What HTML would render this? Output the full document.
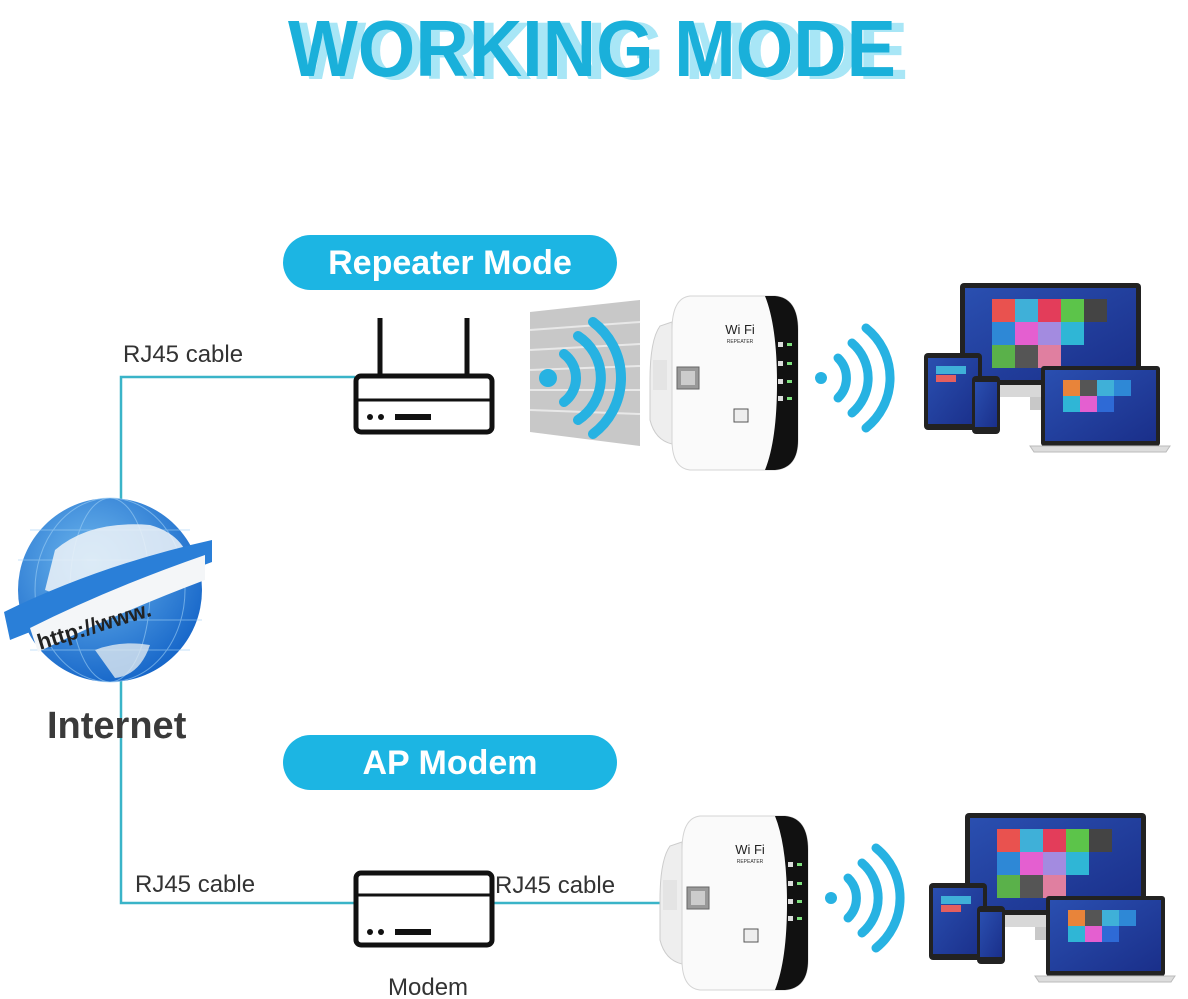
<!DOCTYPE html>
<html><head><meta charset="utf-8"><style>
html,body{margin:0;padding:0;background:#fff}
svg{display:block}
text{font-family:"Liberation Sans",Arial,sans-serif}
</style></head><body>
<svg width="1188" height="999" viewBox="0 0 1188 999" xmlns="http://www.w3.org/2000/svg">
<defs>
<linearGradient id="scr" x1="0" y1="0" x2="1" y2="1"><stop offset="0" stop-color="#2a4fb0"/><stop offset="1" stop-color="#1a2f8a"/></linearGradient>
<radialGradient id="glb" cx="0.4" cy="0.35" r="0.7"><stop offset="0" stop-color="#6fb8ee"/><stop offset="1" stop-color="#1464c8"/></radialGradient>
<g id="devices">
  <rect x="960" y="283" width="181" height="104" rx="4" fill="#222"/>
  <rect x="965" y="288" width="171" height="92" fill="url(#scr)"/>
  <rect x="960" y="385" width="181" height="12" fill="#d8d8d8"/>
  <rect x="1030" y="397" width="40" height="13" fill="#c8c8c8"/>
  <g>
    <rect x="992" y="299" width="23" height="23" fill="#e9524f"/><rect x="1015" y="299" width="23" height="23" fill="#3fb0d8"/><rect x="1038" y="299" width="23" height="23" fill="#e33d5a"/><rect x="1061" y="299" width="23" height="23" fill="#5cc44a"/><rect x="1084" y="299" width="23" height="23" fill="#444"/>
    <rect x="992" y="322" width="23" height="23" fill="#2e88d6"/><rect x="1015" y="322" width="23" height="23" fill="#e45fd0"/><rect x="1038" y="322" width="23" height="23" fill="#a38be0"/><rect x="1061" y="322" width="23" height="23" fill="#2fb6d6"/>
    <rect x="992" y="345" width="23" height="23" fill="#5ab14a"/><rect x="1015" y="345" width="23" height="23" fill="#555"/><rect x="1038" y="345" width="23" height="23" fill="#e07fa0"/>
  </g>
  <rect x="924" y="353" width="58" height="77" rx="4" fill="#222"/>
  <rect x="928" y="358" width="50" height="66" fill="url(#scr)"/>
  <rect x="936" y="366" width="30" height="8" fill="#3fb0d8"/><rect x="936" y="375" width="20" height="7" fill="#e45f5f"/>
  <rect x="972" y="376" width="28" height="58" rx="4" fill="#222"/>
  <rect x="975" y="382" width="22" height="45" fill="url(#scr)"/>
  <rect x="1041" y="366" width="119" height="80" rx="3" fill="#222"/>
  <rect x="1045" y="370" width="111" height="71" fill="url(#scr)"/>
  <rect x="1063" y="380" width="17" height="16" fill="#e8843a"/><rect x="1080" y="380" width="17" height="16" fill="#555"/><rect x="1097" y="380" width="17" height="16" fill="#3fb0d8"/><rect x="1114" y="380" width="17" height="16" fill="#2e88d6"/>
  <rect x="1063" y="396" width="17" height="16" fill="#2fb6d6"/><rect x="1080" y="396" width="17" height="16" fill="#e45fd0"/><rect x="1097" y="396" width="17" height="16" fill="#2e6ad6"/>
  <path d="M1030 446 L1170 446 L1166 452 L1034 452 Z" fill="#ddd" stroke="#bbb"/>
</g>
<g id="rep">
  <path d="M672 322 L660 326 Q650 340 650 380 L650 420 Q655 440 672 444 Z" fill="#eee" stroke="#ccc"/>
  <rect x="653" y="360" width="14" height="30" fill="#e4e4e4"/>
  <path d="M690 296 L775 296 Q798 298 798 330 L798 440 Q798 468 775 470 L690 470 Q672 468 672 440 L672 330 Q672 298 690 296 Z" fill="#fafafa" stroke="#d4d4d4"/>
  <path d="M765 296 L775 296 Q798 298 798 330 L798 440 Q798 468 775 470 L765 470 Q777 440 777 383 Q777 326 765 296 Z" fill="#111"/>
  <rect x="677" y="367" width="22" height="22" fill="#999" stroke="#666"/><rect x="681" y="371" width="14" height="14" fill="#ccc"/>
  <text x="740" y="334" font-size="13" text-anchor="middle" fill="#222">Wi Fi</text>
  <text x="740" y="343" font-size="5" text-anchor="middle" fill="#333">REPEATER</text>
  <rect x="734" y="409" width="14" height="13" fill="#eee" stroke="#555"/>
  <g fill="#7fe07f"><rect x="787" y="343" width="5" height="3"/><rect x="787" y="362" width="5" height="3"/><rect x="787" y="380" width="5" height="3"/><rect x="787" y="397" width="5" height="3"/></g>
  <g fill="#ddd"><rect x="778" y="342" width="5" height="5"/><rect x="778" y="361" width="5" height="5"/><rect x="778" y="379" width="5" height="5"/><rect x="778" y="396" width="5" height="5"/></g>
  <g fill="none" stroke="#27b2e2" stroke-width="9" stroke-linecap="round">
    <circle cx="821" cy="378" r="6" fill="#27b2e2" stroke="none"/>
    <path d="M838 358 A28 28 0 0 1 838 398"/>
    <path d="M852 343 A46 46 0 0 1 852 413"/>
    <path d="M866 328 A64 64 0 0 1 866 428"/>
  </g>
</g>
</defs>

<!-- title -->
<text x="296" y="79" font-size="82" font-weight="bold" fill="#a8e6f6" textLength="612" lengthAdjust="spacingAndGlyphs">WORKING MODE</text>
<text x="288" y="76" font-size="80" font-weight="bold" fill="#1ab0da" textLength="608" lengthAdjust="spacingAndGlyphs">WORKING MODE</text>

<g stroke="#3ab4c8" stroke-width="2.5" fill="none">
  <path d="M355 377 L121 377 L121 500"/>
  <path d="M121 680 L121 903 L355 903"/>
  <path d="M493 903 L680 903"/>
</g>

<rect x="283" y="235" width="334" height="55" rx="27.5" fill="#1cb5e3"/>
<text x="450" y="274" font-size="34" font-weight="bold" fill="#fff" text-anchor="middle">Repeater Mode</text>
<rect x="283" y="735" width="334" height="55" rx="27.5" fill="#1cb5e3"/>
<text x="450" y="774" font-size="34" font-weight="bold" fill="#fff" text-anchor="middle">AP Modem</text>

<text x="123" y="362" font-size="24" fill="#333">RJ45 cable</text>
<text x="135" y="892" font-size="24" fill="#333">RJ45 cable</text>
<text x="495" y="893" font-size="24" fill="#333">RJ45 cable</text>
<text x="388" y="995" font-size="24" fill="#333">Modem</text>

<g stroke="#111" stroke-width="5" fill="#fff" stroke-linejoin="round">
  <line x1="380" y1="318" x2="380" y2="376"/><line x1="467" y1="318" x2="467" y2="376"/>
  <rect x="356" y="376" width="136" height="56" rx="5"/>
  <line x1="356" y1="400" x2="492" y2="400" stroke-width="3"/>
</g>
<g fill="#111"><circle cx="370" cy="417" r="3"/><circle cx="381" cy="417" r="3"/><rect x="395" y="414" width="36" height="6"/></g>

<g stroke="#111" stroke-width="5" fill="#fff">
  <rect x="356" y="873" width="136" height="72" rx="5"/>
  <line x1="356" y1="895" x2="492" y2="895" stroke-width="3"/>
</g>
<g fill="#111"><circle cx="370" cy="932" r="3"/><circle cx="381" cy="932" r="3"/><rect x="395" y="929" width="36" height="6"/></g>

<path d="M530 312 L640 300 L640 446 L530 432 Z" fill="#c8c8c8"/>
<g stroke="#e8e8e8" stroke-width="2">
  <line x1="530" y1="330" x2="640" y2="322"/><line x1="530" y1="350" x2="640" y2="344"/><line x1="530" y1="370" x2="640" y2="366"/><line x1="530" y1="390" x2="640" y2="390"/><line x1="530" y1="410" x2="640" y2="414"/>
</g>
<g fill="none" stroke="#27b2e2" stroke-width="10" stroke-linecap="round">
  <circle cx="548" cy="378" r="9" fill="#27b2e2" stroke="none"/>
  <path d="M564 354 A30 30 0 0 1 564 402"/>
  <path d="M578 336 A50 50 0 0 1 578 420"/>
  <path d="M593 322 A70 70 0 0 1 593 434"/>
</g>

<use href="#rep"/>
<use href="#rep" transform="translate(10,520)"/>
<use href="#devices"/>
<use href="#devices" transform="translate(5,530)"/>

<!-- globe -->
<circle cx="110" cy="590" r="92" fill="url(#glb)"/>
<g stroke="#9fd0f5" stroke-width="1" fill="none" opacity="0.6">
  <ellipse cx="110" cy="590" rx="40" ry="92"/><ellipse cx="110" cy="590" rx="75" ry="92"/>
  <line x1="18" y1="560" x2="202" y2="560"/><line x1="18" y1="620" x2="202" y2="620"/><line x1="30" y1="650" x2="190" y2="650"/><line x1="30" y1="530" x2="190" y2="530"/>
</g>
<path d="M55 550 Q90 520 150 525 Q185 535 190 565 Q150 585 110 595 Q70 600 45 590 Z" fill="#eef3f8" opacity="0.85"/>
<path d="M95 650 Q120 640 150 645 Q140 675 115 678 Z" fill="#dfe8f0" opacity="0.8"/>
<path d="M4 612 Q100 565 212 540 L212 562 Q110 600 10 640 Z" fill="#2a7fd8"/>
<path d="M30 628 Q110 588 205 555 L205 580 Q120 612 38 652 Z" fill="#f4f6f8"/>
<text x="40" y="650" font-size="22" font-weight="bold" fill="#222" transform="rotate(-17 40 650)">http://www.</text>
<text x="47" y="738" font-size="38" font-weight="bold" fill="#3a3a3a">Internet</text>
</svg>
</body></html>
